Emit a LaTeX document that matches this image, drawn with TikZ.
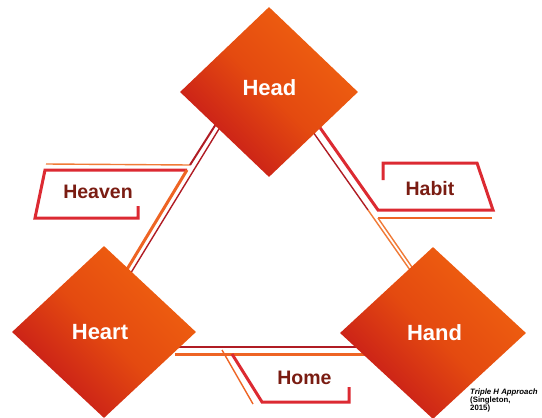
\documentclass[tikz,border=0pt]{standalone}
\usepackage{fontspec}
\setmainfont{Liberation Sans}
\usetikzlibrary{shapes.geometric}
\definecolor{dorange}{HTML}{F06210}
\definecolor{dmid}{HTML}{E44A10}
\definecolor{dred}{HTML}{C4161A}
\definecolor{labcol}{HTML}{7A1C12}
\definecolor{framered}{HTML}{DC2A32}
\definecolor{darkline}{HTML}{B01C24}
\definecolor{lorange}{HTML}{F07A36}
\definecolor{morange}{HTML}{EE6424}
\begin{document}
\begin{tikzpicture}[x=1pt,y=-1pt,
  dia/.style={shape=diamond, draw=none, inner sep=0pt, top color=dorange, bottom color=dred, middle color=dmid, shading angle=-45},
  dtext/.style={text=white, font=\bfseries\fontsize{22}{22}\selectfont},
  lab/.style={text=labcol, font=\bfseries\fontsize{19.5}{19.5}\selectfont},
  thickl/.style={line width=3pt, line join=miter},
  thinl/.style={line width=1.4pt}]
\useasboundingbox (0,0) rectangle (542,418);
\clip (0,0) rectangle (542,418);

% named points
\coordinate (a1) at (216,124); \coordinate (a2) at (190,165);
\coordinate (a3) at (187,170); \coordinate (a4) at (123,276);
\coordinate (b1) at (222,124); \coordinate (b2) at (129,276);
\coordinate (hv1) at (46,164);
\coordinate (f1) at (138,206); \coordinate (f2) at (138,218);
\coordinate (f3) at (35,218); \coordinate (f4) at (45,170);

\coordinate (c1) at (316,122); \coordinate (c2) at (378,210);
\coordinate (h1) at (493,210); \coordinate (h2) at (477,163);
\coordinate (h3) at (383,163); \coordinate (h4) at (383,180);
\coordinate (d1) at (306,122); \coordinate (d2) at (368,210); \coordinate (d3) at (410,270);
\coordinate (e1) at (492,218); \coordinate (e2) at (378,218); \coordinate (e3) at (414,270);

\coordinate (g1) at (175,347); \coordinate (g2) at (365,347);
\coordinate (g3) at (175,354); \coordinate (g4) at (365,354);
\coordinate (m1) at (232,354); \coordinate (m2) at (262,402);
\coordinate (m3) at (349,402); \coordinate (m4) at (349,387);
\coordinate (n1) at (222,350); \coordinate (n2) at (253,404);

% Head - Heart connector with Heaven frame
\draw[thinl, lorange] (hv1) -- (a2);
\draw[line width=2pt, darkline] (a2) -- (a1);
\draw[thickl, framered] (f1) -- (f2) -- (f3) -- (f4) -- (a3);
\draw[thickl, morange] (a3) -- (a4);
\draw[thinl, darkline] (b1) -- (b2);

% Head - Hand connector with Habit frame
\draw[thickl, framered] (c1) -- (c2) -- (h1) -- (h2) -- (h3) -- (h4);
\draw[thinl, darkline] (d1) -- (d2);
\draw[thinl, lorange] (d2) -- (d3);
\draw[thinl, morange] (e1) -- (e2);
\draw[thinl, lorange] (e2) -- (e3);

% Heart - Hand connector with Home frame
\draw[thinl, darkline] (g1) -- (g2);
\draw[thickl, morange] (g3) -- (g4);
\draw[thickl, framered] (m1) -- (m2) -- (m3) -- (m4);
\draw[thinl, morange] (n1) -- (n2);

% diamonds
\node[dia, minimum width=178pt, minimum height=170pt] (head) at (269,92) {};
\node[dia, minimum width=184pt, minimum height=172pt] (heart) at (104,332) {};
\node[dia, minimum width=186pt, minimum height=172pt] (hand) at (433,333) {};
\node[dtext] (headt) at (269.5,88) {Head};
\node[dtext] (heartt) at (100,332.5) {Heart};
\node[dtext] (handt) at (434.5,332.5) {Hand};

% labels
\node[lab] (heaven) at (98,192) {Heaven};
\node[lab] (habit) at (430,189) {Habit};
\node[lab] (home) at (304.5,377.5) {Home};

% citation
\node[anchor=north west, align=left, inner sep=0pt, font=\bfseries\fontsize{7.8}{8}\selectfont] (cite) at (470,389)
  {\textit{Triple H Approach}\\(Singleton,\\2015)};
\end{tikzpicture}
\end{document}
